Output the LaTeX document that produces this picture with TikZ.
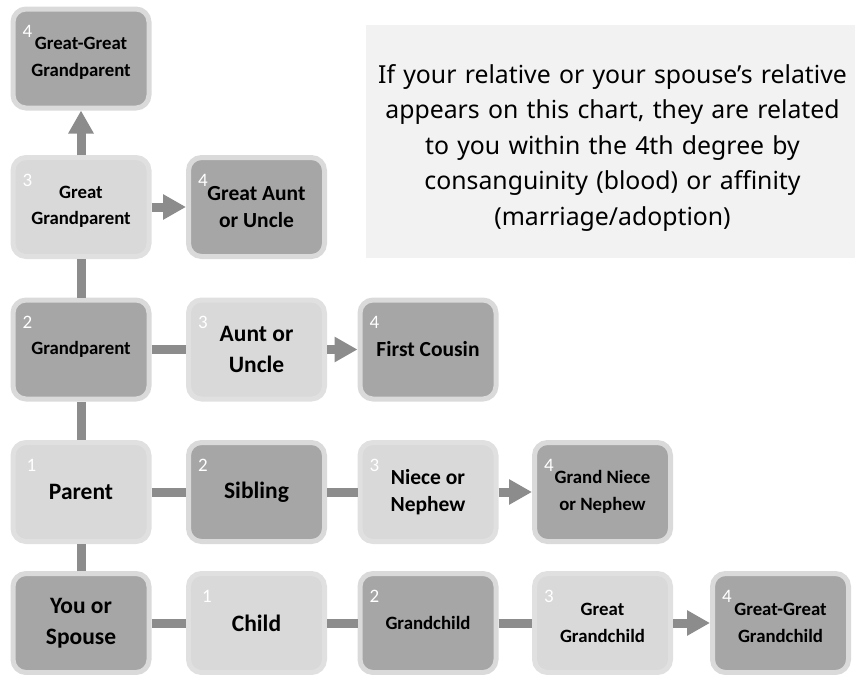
\documentclass[tikz,border=0pt]{standalone}
\usepackage{fontspec}
\setmainfont{Carlito}
\newfontfamily\notefont{Noto Sans}
\usetikzlibrary{arrows.meta,calc}
\definecolor{darkfill}{HTML}{A6A6A6}
\definecolor{darkborder}{HTML}{DADADA}
\definecolor{lightfill}{HTML}{D9D9D9}
\definecolor{lightborder}{HTML}{E0E0E0}
\definecolor{conncol}{HTML}{8C8C8C}
\definecolor{notebg}{HTML}{F2F2F2}
\newcommand\fsm{\fontsize{18.8}{26.5}\selectfont\bfseries}
\newcommand\fmd{\fontsize{21.5}{26.5}\selectfont\bfseries}
\newcommand\flg{\fontsize{23.5}{31}\selectfont\bfseries}
\tikzset{
  box/.style={rounded corners=13pt, minimum width=136pt, minimum height=99pt,
    line width=5pt, align=center, inner sep=0pt},
  dark/.style={box, fill=darkfill, draw=darkborder},
  light/.style={box, fill=lightfill, draw=lightborder},
  num/.style={text=white, font=\fontsize{19}{19}\selectfont, anchor=base west, inner sep=0pt},
  conn/.style={draw=conncol, line width=9pt},
  arr/.style={conn, -{Triangle[length=23pt,width=24pt]}},
}
\begin{document}
\begin{tikzpicture}[x=1pt,y=-1pt]
\useasboundingbox (0,0) rectangle (855,675);
\node[fill=notebg, minimum width=489pt, minimum height=233pt, inner sep=0pt] (note) at (610.5,141.5) {};
\node[text width=489pt, align=center, inner sep=0pt,
  font=\notefont\fontsize{24.8}{35.5}\selectfont] (notetext) at ($(note.center)+(2,6)$)
  {If your relative or your spouse’s relative\\appears on this chart, they are related\\to you within the 4th degree by\\consanguinity (blood) or affinity\\(marriage/adoption)};

\node[dark, font=\fsm] (ggp) at (81,58.5) {Great-Great\\Grandparent};
\node[light, font=\fsm] (gp3) at (81,207) {Great\\Grandparent};
\node[dark, font=\fmd] (gau) at (256.5,207) {Great Aunt\\or Uncle};
\node[dark, font=\fsm] (gp) at (81,349.5) {Grandparent};
\node[light, font=\flg] (au) at (256.5,349.5) {Aunt or\\Uncle};
\node[dark, font=\fmd] (fc) at (428,349.5) {First Cousin};
\node[light, font=\flg] (par) at (81,492) {Parent};
\node[dark, font=\flg] (sib) at (256.5,492) {Sibling};
\node[light, font=\fmd] (nn) at (428,492) {Niece or\\Nephew};
\node[dark, font=\fsm] (gnn) at (602.5,492) {Grand Niece\\or Nephew};
\node[dark, font=\flg] (you) at (81,623) {You or\\Spouse};
\node[light, font=\flg] (ch) at (256.5,623) {Child};
\node[dark, font=\fsm] (gc) at (428,623) {Grandchild};
\node[light, font=\fsm] (ggc3) at (602.5,623) {Great\\Grandchild};
\node[dark, font=\fsm] (ggc4) at (780.5,623) {Great-Great\\Grandchild};

\node[num] (n1) at ($(ggp.north west)+(12,31)$) {4};
\node[num] (n2) at ($(gp3.north west)+(12,31)$) {3};
\node[num] (n3) at ($(gau.north west)+(12,31)$) {4};
\node[num] (n4) at ($(gp.north west)+(12,31)$) {2};
\node[num] (n5) at ($(au.north west)+(12,31)$) {3};
\node[num] (n6) at ($(fc.north west)+(12,31)$) {4};
\node[num] (n7) at ($(par.north west)+(16,31)$) {1};
\node[num] (n8) at ($(sib.north west)+(12,31)$) {2};
\node[num] (n9) at ($(nn.north west)+(12,31)$) {3};
\node[num] (n10) at ($(gnn.north west)+(12,31)$) {4};
\node[num] (n11) at ($(ch.north west)+(16,31)$) {1};
\node[num] (n12) at ($(gc.north west)+(12,31)$) {2};
\node[num] (n13) at ($(ggc3.north west)+(12,31)$) {3};
\node[num] (n14) at ($(ggc4.north west)+(12,31)$) {4};

\draw[arr] (gp3) -- (ggp);
\draw[arr] (gp3) -- (gau);
\draw[conn] (gp) -- (gp3);
\draw[conn] (gp) -- (au);
\draw[arr] (au) -- (fc);
\draw[conn] (par) -- (gp);
\draw[conn] (par) -- (sib);
\draw[conn] (sib) -- (nn);
\draw[arr] (nn) -- (gnn);
\draw[conn] (you) -- (par);
\draw[conn] (you) -- (ch);
\draw[conn] (ch) -- (gc);
\draw[conn] (gc) -- (ggc3);
\draw[arr] (ggc3) -- (ggc4);
\end{tikzpicture}
\end{document}
